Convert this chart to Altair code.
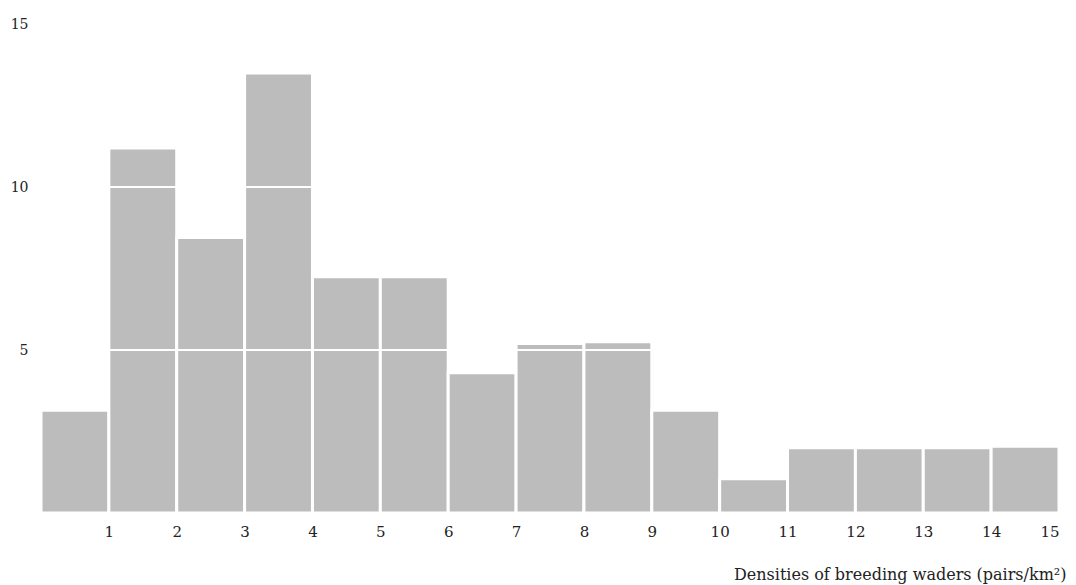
import altair as alt
import pandas as pd

# Histogram bins (pairs/km²) and heights
bin_start = list(range(15))
bin_end = list(range(1, 16))
counts = [3.15, 11.2, 8.45, 13.5, 7.25, 7.25, 4.3, 5.2, 5.25, 3.15, 1.05, 2.0, 2.0, 2.0, 2.05]
grid_values = [5, 10]
x_ticks = list(range(1, 16))
y_ticks = [5, 10, 15]
x_title = "Densities of breeding waders (pairs/km²)"

df = pd.DataFrame({"start": bin_start, "end": bin_end, "count": counts,
                   "base": [0] * len(counts)})
gdf = pd.DataFrame({"g": grid_values})

W, H = 1018, 489
FONT = "DejaVu Serif"

xscale = alt.Scale(domain=[0, 15], nice=False, zero=False)
yscale = alt.Scale(domain=[0, 15], nice=False)

bars = alt.Chart(df).mark_rect(fill="#bcbcbc", stroke="white", strokeWidth=3).encode(
    x=alt.X("start:Q", scale=xscale,
            axis=alt.Axis(values=x_ticks, title=x_title, format="d",
                          grid=False, domain=False, ticks=False,
                          labelPadding=11, labelBaseline="top", labelFontSize=15,
                          labelColor="#222", labelFont=FONT,
                          titleFont=FONT, titleFontSize=16, titleFontWeight="normal",
                          titleColor="#222", titleAnchor="end", titleAlign="right",
                          titleX=W + 7, titleY=66, titleBaseline="alphabetic")),
    x2="end:Q",
    y=alt.Y("count:Q", scale=yscale,
            axis=alt.Axis(values=y_ticks, title=None, format="d",
                          grid=False, domain=False, ticks=False,
                          labelAlign="right", labelPadding=13, labelFontSize=14,
                          labelColor="#222", labelFont=FONT)),
    y2="base:Q",
)

grid = alt.Chart(gdf).mark_rule(color="white", strokeWidth=2).encode(
    y=alt.Y("g:Q", scale=yscale),
    x=alt.value(0),
    x2=alt.value(W),
)

chart = alt.layer(bars, grid).properties(
    width=W, height=H,
    background="white",
    autosize=alt.AutoSizeParams(type="none"),
    padding={"left": 33, "top": 16, "right": 9, "bottom": 72},
).configure_axis(
    domain=False, ticks=False, tickSize=0, grid=False
).configure_view(stroke=None)

chart.save("out.html", embed_options={"renderer": "svg", "actions": False})
